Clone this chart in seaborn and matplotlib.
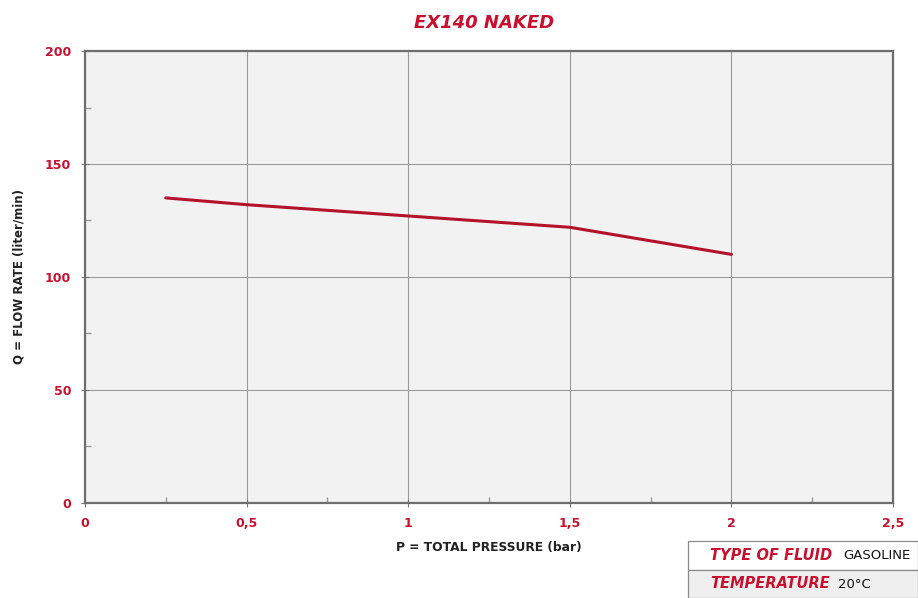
import matplotlib
matplotlib.use("Agg")
import seaborn as sns
import pandas as pd
from matplotlib import pyplot as plt
from matplotlib.patches import Rectangle
from matplotlib.ticker import MultipleLocator

# curve
pressure = [0.25, 0.5, 1.0, 1.5, 2.0]
flow = [135, 132, 127, 122, 110]

x_ticks = [0, 0.5, 1, 1.5, 2, 2.5]
x_labels = ['0', '0,5', '1', '1,5', '2', '2,5']
y_ticks = [0, 50, 100, 150, 200]

red = '#c8102e'
data = pd.DataFrame({'P': pressure, 'Q': flow})

sns.set_style('white')
plt.rcParams['font.family'] = ['DejaVu Sans']

fig = plt.figure(figsize=(9.18, 5.98), dpi=100)
ax = fig.add_axes([0.0926, 0.1589, 0.8802, 0.7558])
ax.set_facecolor('#f2f2f2')

sns.lineplot(data=data, x='P', y='Q', ax=ax, color='#b3122a', linewidth=2.2)

ax.set_xlim(0, 2.5)
ax.set_ylim(0, 200)
ax.set_xticks(x_ticks)
ax.set_xticklabels(x_labels)
ax.set_yticks(y_ticks)
ax.xaxis.set_minor_locator(MultipleLocator(0.25))
ax.yaxis.set_minor_locator(MultipleLocator(25))
ax.grid(True, which='major', color='#9a9a9a', linewidth=0.8)
ax.tick_params(which='both', bottom=True, left=True)
ax.tick_params(which='major', direction='inout', length=6, color='#777777',
               labelcolor=red, labelsize=9, pad=7)
ax.tick_params(which='minor', direction='in', length=4, width=1, color='#999999')
for lab in ax.get_xticklabels() + ax.get_yticklabels():
    lab.set_fontweight('bold')
for s in ax.spines.values():
    s.set_color('#6e6e6e')
    s.set_linewidth(1.6)

ax.set_xlabel('P = TOTAL PRESSURE (bar)', fontsize=8.8, fontweight='bold',
              color='#222222', labelpad=8)
ax.set_ylabel('Q = FLOW RATE (liter/min)', fontsize=8.5, fontweight='bold',
              color='#222222', labelpad=14)
fig.text(0.527, 0.962, 'EX140 NAKED', color=red, fontsize=13,
         fontweight='bold', fontstyle='italic', ha='center', va='center')

# small info table bottom right
x0, x1 = 688 / 918, 1.0
rows = [(541, 570, 'white', 'TYPE OF FLUID', 'GASOLINE'),
        (570, 598, '#efefef', 'TEMPERATURE', '20°C')]
for top, bot, bg, key, val in rows:
    y0 = 1 - bot / 598
    h = (bot - top) / 598
    fig.add_artist(Rectangle((x0, y0), x1 - x0, h, transform=fig.transFigure,
                             facecolor=bg, edgecolor='#8a8a8a', linewidth=0.9))
    fig.text(710 / 918, y0 + h / 2, key, color=red, fontsize=10.5,
             fontweight='bold', fontstyle='italic', va='center')
    fig.text((843 if val == 'GASOLINE' else 838) / 918, y0 + h / 2, val,
             color='#111111', fontsize=9.5, va='center', ha='left')

fig.savefig('out.png', dpi=100)
